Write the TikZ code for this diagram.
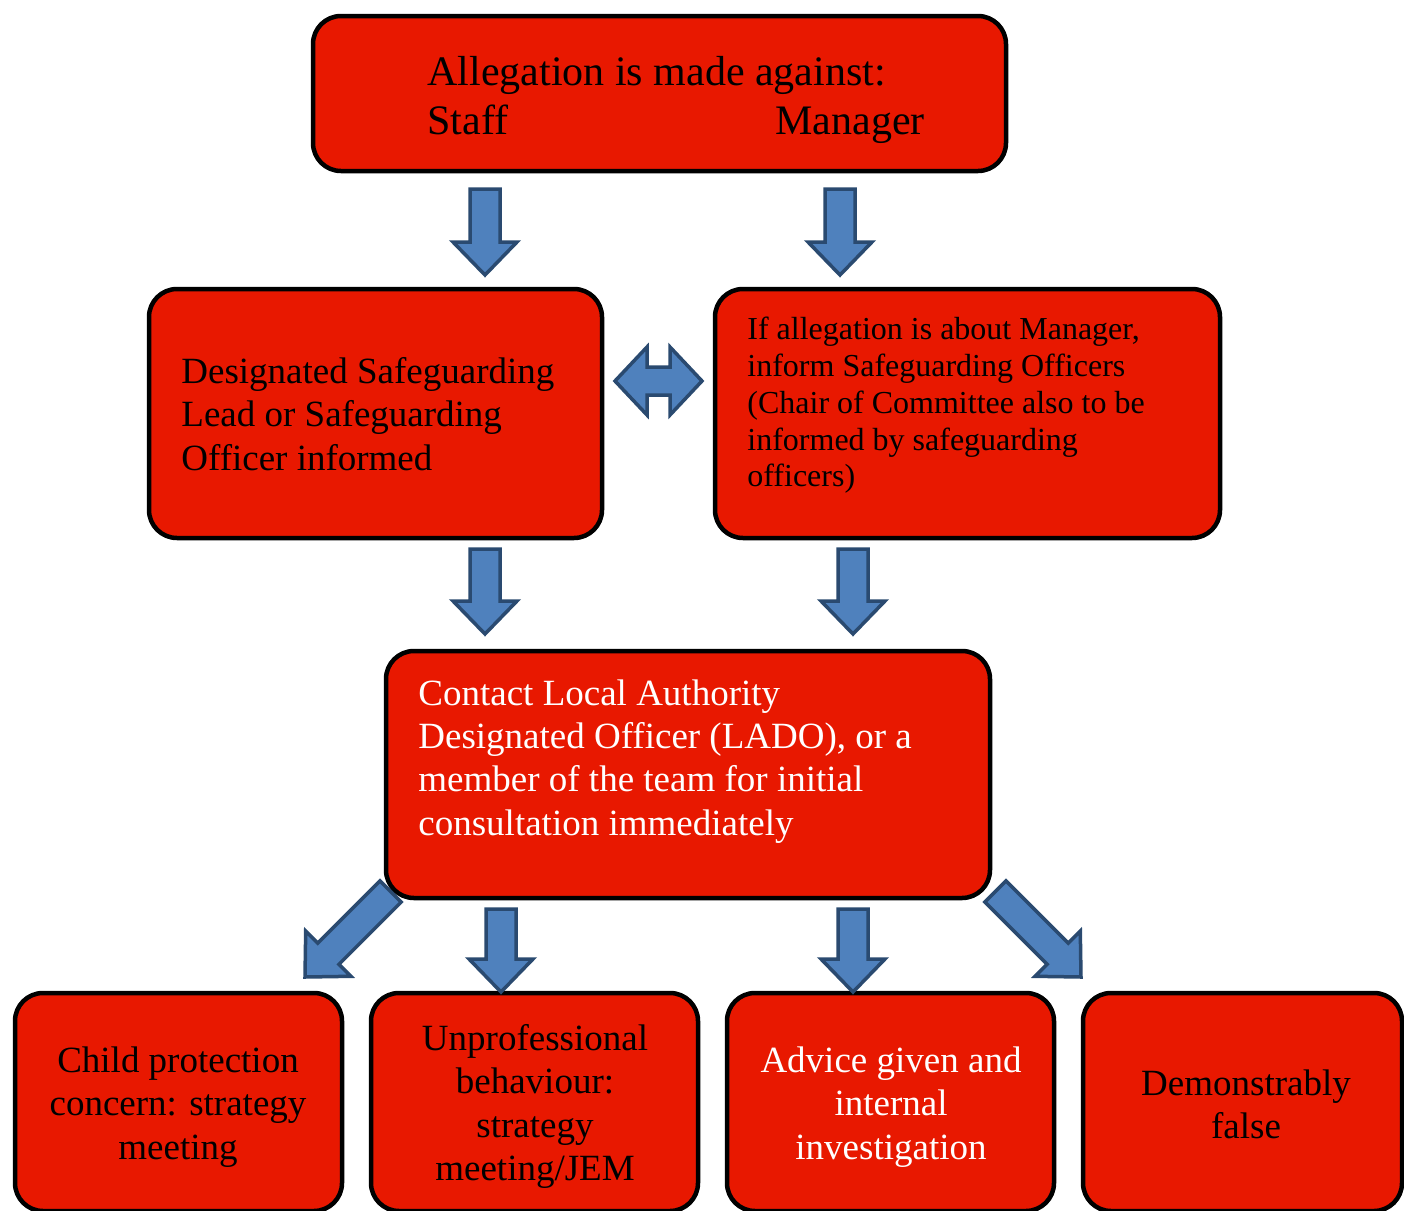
\documentclass[tikz,border=0pt]{standalone}
\usepackage{fontspec}
\setmainfont{Liberation Serif}
\definecolor{boxred}{HTML}{E81800}
\definecolor{arrowblue}{HTML}{4F81BD}
\definecolor{arrowedge}{HTML}{2A4A70}
\newcommand\blockarrow[3]{\draw[blk, shift={(#1)}, rotate=#2] (0,0) -- (-33,32) -- (-33,15) -- (-#3,15) -- (-#3,-15) -- (-33,-15) -- (-33,-32) -- cycle;}
\begin{document}
\begin{tikzpicture}[x=0.5pt,y=-0.5pt,
  box/.style={draw=black, line width=2.25pt, fill=boxred, rounded corners=14pt, inner sep=0pt},
  txt/.style={inner sep=0pt, align=left},
  ctxt/.style={inner sep=0pt, align=center},
  big/.style={font=\fontsize{21}{24.5}\selectfont},
  mid/.style={font=\fontsize{18.5}{21.6}\selectfont},
  small/.style={font=\fontsize{16}{18.4}\selectfont},
  blk/.style={fill=arrowblue, draw=arrowedge, line width=1.75pt, line join=miter}]
\useasboundingbox (0,0) rectangle (1404,1211);
\clip (0,0) rectangle (1404,1211);
\fill[white] (0,0) rectangle (1404,1211);

% boxes
\node[box, minimum width=346.5pt, minimum height=77.5pt] (top) at (659.5,93.5) {};
\node[txt, big, anchor=west] (toptext) at (427,99.5) {Allegation is made against:\\\makebox[174pt][l]{Staff}Manager};

\node[box, minimum width=226.5pt, minimum height=124.5pt] (dsl) at (375.5,413.5) {};
\node[txt, mid, anchor=west] (dsltext) at (181,414) {Designated Safeguarding\\Lead or Safeguarding\\Officer informed};

\node[box, minimum width=252.5pt, minimum height=124.5pt] (mgr) at (967.5,413.5) {};
\node[txt, small, anchor=west] (mgrtext) at (747,405.5) {If allegation is about Manager,\\inform Safeguarding Officers\\(Chair of Committee also to be\\informed by safeguarding\\officers)};

\node[box, minimum width=302pt, minimum height=123.5pt] (lado) at (688,774.5) {};
\node[txt, mid, anchor=west, text=white] (ladotext) at (418,761.5) {Contact Local Authority\\Designated Officer (LADO), or a\\member of the team for initial\\consultation immediately};

\node[box, minimum width=163.5pt, minimum height=109pt] (b1) at (178.5,1102) {};
\node[ctxt, mid] (b1text) at (178,1107) {Child protection\\concern: strategy\\meeting};

\node[box, minimum width=163.5pt, minimum height=109pt] (b2) at (534.5,1102) {};
\node[ctxt, mid] (b2text) at (535,1106.5) {Unprofessional\\behaviour:\\strategy\\meeting/JEM};

\node[box, minimum width=163.5pt, minimum height=109pt] (b3) at (890.5,1102) {};
\node[ctxt, mid, text=white] (b3text) at (891,1107) {Advice given and\\internal\\investigation};

\node[box, minimum width=159.5pt, minimum height=109pt] (b4) at (1242.5,1102) {};
\node[ctxt, mid] (b4text) at (1246,1104.5) {Demonstrably\\false};

% arrows
\coordinate (a1) at (485,275);
\coordinate (a2) at (840,275);
\coordinate (a3) at (485,634);
\coordinate (a4) at (853,634);
\coordinate (a5) at (305,977);
\coordinate (a6) at (501,992);
\coordinate (a7) at (853,992);
\coordinate (a8) at (1081,977);
\blockarrow{a1}{-90}{86}
\blockarrow{a2}{-90}{86}
\blockarrow{a3}{-90}{85}
\blockarrow{a4}{-90}{85}
\blockarrow{a5}{-135}{121}
\blockarrow{a6}{-90}{83}
\blockarrow{a7}{-90}{83}
\blockarrow{a8}{-45}{121}
\draw[blk] (615,381) -- (647,347) -- (647,367) -- (670,367) -- (670,347) -- (702,381) -- (670,415) -- (670,395) -- (647,395) -- (647,415) -- cycle;
\end{tikzpicture}
\end{document}
